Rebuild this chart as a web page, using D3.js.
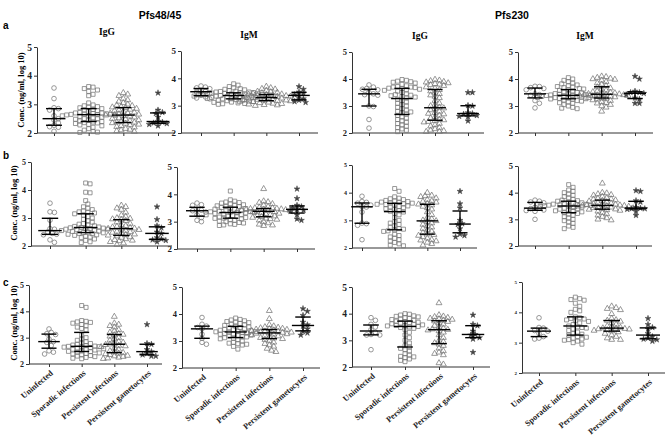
<!DOCTYPE html>
<html><head><meta charset="utf-8">
<script src="https://cdn.jsdelivr.net/npm/d3@7"></script>
<style>body{margin:0;background:#fff}</style>
</head><body>
<script>
// ---------------- data ----------------
const categories = ["Uninfected","Sporadic infections","Persistent infections","Persistent gametocytes"];
const antigens = ["Pfs48/45","Pfs230"];
const isotypes = ["IgG","IgM","IgG","IgM"];
const rowLetters = ["a","b","c"];
const yTicks = [2,3,4,5];
const yLabel = "Conc. (ng/ml, log 10)";

// row a
const a48G = [
 [3.57,3.2,2.88,2.85,2.8,2.6,2.5,2.45,2.35,2.27,2.22,2.2,2.06],
 [3.62,3.6,3.55,3.5,3.45,3.35,3.3,3.05,2.98,2.95,2.92,2.9,2.88,2.85,2.82,2.8,2.78,2.75,2.72,2.7,2.7,2.68,2.67,2.66,2.65,2.65,2.64,2.63,2.62,2.6,2.6,2.58,2.55,2.52,2.5,2.5,2.48,2.45,2.42,2.4,2.38,2.36,2.35,2.33,2.3,2.28,2.25,2.2,2.15,2.1,2.05,2.03,2.02],
 [3.4,3.35,3.3,3.2,3.15,3.1,3.05,3.0,2.97,2.95,2.92,2.9,2.88,2.85,2.82,2.8,2.78,2.75,2.72,2.7,2.68,2.66,2.65,2.63,2.62,2.6,2.58,2.55,2.52,2.5,2.48,2.45,2.42,2.4,2.38,2.37,2.35,2.33,2.3,2.28,2.25,2.22,2.2,2.15,2.12,2.1,2.07,2.05],
 [3.4,2.8,2.72,2.68,2.55,2.4,2.38,2.35,2.33,2.3,2.25]
];
const a48M = [
 [3.72,3.68,3.65,3.62,3.56,3.52,3.5,3.45,3.38,3.32,3.28,3.25],
 [3.8,3.75,3.7,3.65,3.62,3.6,3.58,3.55,3.53,3.52,3.5,3.5,3.48,3.47,3.46,3.45,3.44,3.43,3.42,3.42,3.41,3.4,3.4,3.4,3.39,3.38,3.37,3.36,3.35,3.35,3.34,3.33,3.32,3.31,3.3,3.3,3.28,3.27,3.26,3.25,3.24,3.22,3.2,3.2,3.18,3.17,3.15,3.13,3.12,3.1,3.08,3.07,3.05],
 [3.7,3.65,3.62,3.6,3.55,3.52,3.5,3.48,3.46,3.44,3.42,3.41,3.4,3.38,3.37,3.36,3.35,3.34,3.33,3.32,3.31,3.3,3.3,3.29,3.28,3.27,3.26,3.25,3.24,3.23,3.22,3.2,3.2,3.19,3.18,3.17,3.15,3.14,3.12,3.1,3.08,3.07,3.05,3.03,3.02,3.0],
 [3.7,3.6,3.5,3.45,3.4,3.35,3.25,3.2,3.15,3.12]
];
const a230G = [
 [3.78,3.7,3.65,3.62,3.6,3.5,3.45,3.42,3.4,3.0,2.98,2.5,2.18],
 [3.98,3.95,3.92,3.9,3.88,3.85,3.8,3.75,3.72,3.7,3.7,3.68,3.66,3.65,3.62,3.6,3.58,3.55,3.5,3.45,3.42,3.4,3.38,3.35,3.33,3.3,3.25,3.2,3.15,3.1,3.05,3.0,2.95,2.9,2.85,2.8,2.78,2.75,2.7,2.65,2.6,2.55,2.5,2.45,2.4,2.35,2.3,2.25,2.2,2.15,2.1,2.05],
 [3.98,3.95,3.93,3.9,3.88,3.85,3.82,3.8,3.78,3.75,3.7,3.65,3.6,3.55,3.5,3.45,3.4,3.35,3.3,3.2,3.1,3.05,3.0,2.95,2.92,2.9,2.85,2.8,2.75,2.72,2.7,2.65,2.6,2.55,2.5,2.48,2.45,2.42,2.4,2.35,2.3,2.25,2.2,2.15,2.1,2.08,2.05,2.05],
 [3.5,3.5,3.02,3.0,2.75,2.72,2.7,2.65,2.62,2.6,2.45]
];
const a230M = [
 [3.73,3.72,3.68,3.65,3.6,3.45,3.42,3.4,3.2,3.1,2.93],
 [4.05,4.0,3.95,3.9,3.85,3.82,3.78,3.75,3.72,3.7,3.68,3.65,3.63,3.6,3.58,3.55,3.52,3.5,3.48,3.46,3.45,3.43,3.42,3.41,3.4,3.4,3.39,3.38,3.37,3.36,3.35,3.34,3.33,3.32,3.31,3.3,3.29,3.28,3.27,3.26,3.25,3.22,3.2,3.18,3.15,3.12,3.1,3.05,3.0,2.95,2.92,2.9],
 [4.1,4.08,4.05,4.02,4.0,3.98,3.95,3.9,3.85,3.8,3.75,3.7,3.66,3.62,3.58,3.55,3.52,3.5,3.48,3.47,3.45,3.44,3.43,3.42,3.41,3.4,3.39,3.38,3.37,3.35,3.33,3.31,3.3,3.28,3.25,3.22,3.2,3.15,3.12,3.1,3.05,3.0,2.95,2.8],
 [4.1,4.0,3.55,3.5,3.5,3.47,3.42,3.3,3.25,3.1,3.1]
];
// row b
const b48G = [
 [3.53,3.22,3.2,2.92,2.62,2.6,2.5,2.45,2.42,2.4,2.22,2.13],
 [4.25,4.22,3.92,3.9,3.62,3.5,3.4,3.35,3.3,3.25,3.22,3.2,3.18,3.15,3.1,3.05,3.0,2.95,2.9,2.85,2.8,2.78,2.75,2.72,2.7,2.68,2.66,2.65,2.64,2.63,2.62,2.6,2.6,2.58,2.56,2.55,2.53,2.52,2.5,2.48,2.47,2.45,2.44,2.42,2.4,2.38,2.35,2.32,2.3,2.25,2.2,2.15,2.12],
 [3.45,3.4,3.35,3.3,3.2,3.1,3.05,3.0,2.98,2.96,2.94,2.9,2.85,2.8,2.75,2.72,2.7,2.67,2.65,2.63,2.62,2.6,2.58,2.55,2.52,2.5,2.48,2.45,2.42,2.4,2.38,2.35,2.32,2.3,2.25,2.22,2.2,2.18,2.15,2.1,2.05],
 [3.4,2.95,2.72,2.65,2.5,2.45,2.3,2.25,2.22,2.2,2.15]
];
const b48M = [
 [3.68,3.62,3.6,3.45,3.42,3.4,3.35,3.25,3.15,3.05,3.0],
 [4.12,3.8,3.75,3.72,3.7,3.68,3.65,3.62,3.6,3.58,3.56,3.55,3.52,3.5,3.48,3.46,3.45,3.42,3.4,3.38,3.37,3.36,3.35,3.34,3.33,3.32,3.3,3.28,3.26,3.25,3.22,3.2,3.18,3.17,3.15,3.13,3.12,3.1,3.08,3.05,3.02,3.0,2.97,2.95,2.92,2.9,2.88,2.86],
 [4.2,3.75,3.72,3.7,3.65,3.6,3.55,3.52,3.5,3.5,3.48,3.47,3.46,3.45,3.44,3.43,3.42,3.41,3.4,3.39,3.38,3.37,3.36,3.35,3.33,3.3,3.28,3.25,3.22,3.2,3.18,3.15,3.12,3.1,3.08,3.05,3.0,2.95,2.9,2.87,2.85],
 [4.2,3.85,3.6,3.55,3.5,3.45,3.42,3.38,3.25,3.1,3.05]
];
const b230G = [
 [3.87,3.68,3.65,3.62,3.55,3.5,3.48,3.3,2.9,2.88,2.82,2.3],
 [4.15,4.05,3.85,3.8,3.78,3.75,3.72,3.7,3.68,3.66,3.65,3.63,3.62,3.6,3.58,3.57,3.55,3.52,3.5,3.48,3.45,3.42,3.4,3.35,3.33,3.3,3.25,3.2,3.1,3.0,2.95,2.9,2.85,2.8,2.75,2.7,2.68,2.65,2.62,2.6,2.5,2.45,2.4,2.35,2.3,2.25,2.2,2.15,2.1,2.08],
 [4.0,3.9,3.88,3.85,3.8,3.75,3.7,3.68,3.65,3.6,3.58,3.55,3.5,3.45,3.4,3.3,3.2,3.1,3.05,3.0,2.98,2.95,2.9,2.85,2.8,2.75,2.7,2.65,2.6,2.55,2.5,2.48,2.45,2.4,2.35,2.3,2.28,2.25,2.2,2.15,2.1],
 [4.05,3.6,3.45,3.0,2.88,2.85,2.7,2.5,2.45,2.4]
];
const b230M = [
 [3.72,3.68,3.65,3.62,3.45,3.42,3.4,3.35,3.33,3.3,3.0],
 [4.3,4.2,4.1,4.05,4.0,3.95,3.9,3.85,3.8,3.75,3.72,3.7,3.68,3.65,3.62,3.6,3.58,3.57,3.56,3.55,3.54,3.53,3.52,3.51,3.5,3.5,3.48,3.46,3.45,3.42,3.4,3.38,3.35,3.32,3.3,3.28,3.25,3.22,3.2,3.15,3.1,3.05,3.0,2.95,2.9,2.85,2.75,2.7,2.65],
 [4.35,4.0,3.98,3.95,3.92,3.9,3.85,3.8,3.78,3.76,3.75,3.72,3.7,3.68,3.65,3.62,3.6,3.58,3.56,3.55,3.54,3.53,3.52,3.51,3.5,3.49,3.48,3.47,3.46,3.45,3.43,3.42,3.4,3.38,3.37,3.35,3.33,3.3,3.25,3.2,3.15,3.1,3.05,3.0,2.97],
 [4.08,4.05,3.7,3.65,3.45,3.42,3.4,3.4,3.38,3.3,3.15]
];
// row c
const c48G = [
 [3.33,3.2,3.15,3.12,2.95,2.85,2.82,2.7,2.5,2.45,2.38],
 [4.22,4.15,3.65,3.62,3.6,3.58,3.55,3.5,3.45,3.4,3.35,3.3,3.1,3.0,2.95,2.9,2.85,2.8,2.78,2.75,2.72,2.7,2.68,2.67,2.66,2.65,2.64,2.62,2.6,2.58,2.56,2.55,2.53,2.5,2.48,2.47,2.45,2.42,2.4,2.38,2.35,2.32,2.3,2.28,2.25,2.22,2.2],
 [3.8,3.55,3.5,3.45,3.4,3.3,3.25,3.2,3.15,3.12,3.1,3.05,3.0,2.95,2.9,2.85,2.82,2.78,2.75,2.73,2.7,2.68,2.65,2.6,2.55,2.5,2.45,2.43,2.4,2.38,2.35,2.32,2.3,2.28,2.25,2.22,2.2],
 [3.5,2.78,2.75,2.55,2.47,2.4,2.35,2.3,2.3]
];
const c48M = [
 [3.87,3.62,3.55,3.5,3.45,3.25,3.1,2.95,2.88],
 [3.85,3.8,3.78,3.75,3.72,3.7,3.68,3.65,3.62,3.6,3.58,3.55,3.52,3.5,3.48,3.45,3.43,3.42,3.4,3.38,3.36,3.35,3.34,3.33,3.32,3.3,3.28,3.26,3.25,3.22,3.2,3.18,3.16,3.15,3.12,3.1,3.08,3.05,3.0,2.95,2.92,2.9,2.88,2.85,2.8,2.7],
 [4.12,3.82,3.6,3.55,3.52,3.5,3.48,3.46,3.45,3.43,3.42,3.4,3.38,3.36,3.35,3.33,3.32,3.31,3.3,3.3,3.28,3.26,3.25,3.22,3.2,3.18,3.15,3.12,3.1,3.08,3.05,3.0,2.95,2.9,2.85,2.8,2.72,2.65,2.6],
 [4.2,4.1,3.95,3.7,3.6,3.55,3.45,3.35,3.3,3.22]
];
const c230G = [
 [3.85,3.75,3.6,3.5,3.4,3.3,3.22,3.2,3.2,2.65],
 [4.0,3.98,3.95,3.92,3.9,3.88,3.85,3.82,3.8,3.78,3.75,3.72,3.7,3.68,3.66,3.65,3.62,3.6,3.58,3.56,3.55,3.54,3.52,3.5,3.48,3.45,3.4,3.3,3.2,3.1,3.0,2.9,2.8,2.75,2.7,2.65,2.6,2.5,2.45,2.4,2.38,2.35,2.3,2.25,2.2],
 [4.4,3.95,3.9,3.88,3.85,3.82,3.8,3.78,3.75,3.72,3.7,3.65,3.6,3.55,3.5,3.45,3.42,3.4,3.38,3.35,3.3,3.2,3.1,3.0,2.95,2.9,2.85,2.8,2.7,2.6,2.55,2.5,2.45,2.15,2.1],
 [3.95,3.6,3.55,3.35,3.22,3.2,3.1,3.05,2.55]
];
const c230M = [
 [3.82,3.5,3.48,3.4,3.38,3.3,3.2,3.15,3.12],
 [4.5,4.45,4.42,4.4,4.3,4.2,4.1,4.05,4.0,3.85,3.82,3.8,3.78,3.75,3.72,3.7,3.65,3.6,3.55,3.52,3.5,3.48,3.45,3.4,3.35,3.3,3.28,3.25,3.2,3.18,3.15,3.12,3.1,3.08,3.05,3.0,2.95],
 [4.2,4.15,4.12,4.08,3.95,3.8,3.75,3.73,3.7,3.65,3.6,3.55,3.52,3.5,3.48,3.47,3.46,3.45,3.44,3.42,3.4,3.38,3.35,3.3,3.25,3.2,3.15,3.1,3.1],
 [3.8,3.6,3.5,3.45,3.3,3.2,3.15,3.12,3.1,3.05]
];
const panelData = [a48G,a48M,a230G,a230M,b48G,b48M,b230G,b230M,c48G,c48M,c230G,c230M];

// ---------------- layout (positions only) ----------------
const layout = [
 {ax:37, xe:175, t0:54, t1:158, yTop:47, yBot:133, tf:9.5},
 {ax:181,xe:318, t0:201,t1:299, yTop:51, yBot:133, tf:9},
 {ax:352,xe:484, t0:369,t1:468, yTop:52, yBot:133, tf:8.5},
 {ax:518,xe:653, t0:535,t1:635, yTop:52, yBot:133, tf:8.5},
 {ax:31, xe:172, t0:50, t1:157, yTop:162,yBot:246, tf:8},
 {ax:177,xe:315, t0:197,t1:297, yTop:167,yBot:249, tf:9},
 {ax:352,xe:477, t0:362,t1:460, yTop:165,yBot:248, tf:6},
 {ax:518,xe:652, t0:535,t1:636, yTop:166,yBot:246, tf:8.5},
 {ax:29, xe:162, t0:49, t1:147, yTop:285,yBot:364, tf:8},
 {ax:182,xe:320, t0:202,t1:303, yTop:287,yBot:368, tf:8.5},
 {ax:352,xe:490, t0:371,t1:473, yTop:287,yBot:367, tf:9.5},
 {ax:522,xe:665, t0:539,t1:648, yTop:282,yBot:373, tf:5}
];

const serif = "'Liberation Serif','Times New Roman',serif";
const sans = "'Liberation Sans',Arial,sans-serif";
const symbolTypes = [d3.symbolCircle, d3.symbolSquare, d3.symbolTriangle, d3.symbolStar];
const symbolSizes = [17, 16, 15, 11];

const svg = d3.select("body").append("svg").attr("width",668).attr("height",439)
  .style("background","#fff");

// Antigen titles
svg.append("text").attr("x",160).attr("y",19).attr("text-anchor","middle")
  .attr("font-family",sans).attr("font-weight","bold").attr("font-size",10.5).text(antigens[0]);
svg.append("text").attr("x",512).attr("y",19).attr("text-anchor","middle")
  .attr("font-family",sans).attr("font-weight","bold").attr("font-size",10.5).text(antigens[1]);

// Row letters
const letterPos = [[3,29],[3,159],[3,286]];
rowLetters.forEach((l,i)=>svg.append("text").attr("x",letterPos[i][0]).attr("y",letterPos[i][1])
  .attr("font-family",sans).attr("font-weight","bold").attr("font-size",10).text(l));

// Isotype titles (row a)
const isoPos = [[107,35],[249,38],[420,39],[585,39]];
isotypes.forEach((t,i)=>svg.append("text").attr("x",isoPos[i][0]).attr("y",isoPos[i][1])
  .attr("text-anchor","middle").attr("font-family",serif).attr("font-weight","bold")
  .attr("font-size",9.5).text(t));

// y labels
const ylabPos = [[22,90],[15,203],[15,323]];
ylabPos.forEach(p=>svg.append("text").attr("transform",`translate(${p[0]},${p[1]}) rotate(-90)`)
  .attr("text-anchor","middle").attr("dominant-baseline","middle").attr("font-family",serif).attr("font-weight","bold")
  .attr("font-size",8.5).text(yLabel));

function swarm(vals, y, d){
  const pts = vals.map(v=>({v, py:y(v)})).sort((a,b)=>a.py-b.py);
  const placed = [];
  const s = d*0.5;
  for (const p of pts){
    for (let k=0;k<200;k++){
      const off = k===0?0:(k%2?1:-1)*Math.ceil(k/2)*s;
      let ok = true;
      for (const q of placed){
        const dx=q.dx-off, dy=q.py-p.py;
        if (dx*dx+dy*dy < d*d*0.8){ok=false;break;}
      }
      if (ok){p.dx=off;placed.push(p);break;}
    }
  }
  return placed;
}

panelData.forEach((data,pi)=>{
  const L = layout[pi];
  const row = Math.floor(pi/4);
  const g = svg.append("g");
  const y = d3.scaleLinear().domain([2,5]).range([L.yBot,L.yTop]);
  const x = d3.scalePoint().domain(categories).range([L.t0,L.t1]);
  const step = x.step();

  // y axis
  const ya = g.append("g").attr("transform",`translate(${L.ax},0)`)
    .call(d3.axisLeft(y).tickValues(yTicks).tickSize(3).tickSizeOuter(0).tickPadding(2).tickFormat(d3.format("d")));
  ya.select(".domain").attr("stroke","#333");
  ya.selectAll(".tick line").attr("stroke","#333");
  ya.selectAll("text").attr("font-family",serif).attr("font-weight","bold").attr("font-size",L.tf).attr("fill","#222");

  // x axis
  const xa = g.append("g").attr("transform",`translate(0,${L.yBot})`)
    .call(d3.axisBottom(x).tickSize(3).tickSizeOuter(0).tickFormat(row===2?(d=>d):(()=>"")));
  xa.select(".domain").remove();
  xa.selectAll(".tick line").attr("stroke","#333");
  xa.append("line").attr("x1",L.ax).attr("x2",L.xe).attr("stroke","#333");
  if (row===2){
    xa.selectAll("text").attr("x",0).attr("y",0).attr("dy",0)
      .attr("text-anchor","end").attr("transform","translate(4,10) rotate(-40)")
      .attr("font-family",serif).attr("font-weight","bold").attr("font-size",8.3).attr("fill","#222");
  }

  // points
  data.forEach((vals,ci)=>{
    const cx = x(categories[ci]);
    const pts = swarm(vals,y,4.4);
    const sym = d3.symbol().type(symbolTypes[ci]).size(symbolSizes[ci]);
    g.append("g").selectAll("path").data(pts).join("path")
      .attr("transform",d=>`translate(${cx+d.dx},${d.py})`)
      .attr("d",sym)
      .attr("fill",ci===3?"#444":"none")
      .attr("stroke",ci===3?"#444":"#777")
      .attr("stroke-width",ci===3?0.5:0.75);
  });

  // median & IQR
  data.forEach((vals,ci)=>{
    const cx = x(categories[ci]);
    const s = vals.slice().sort(d3.ascending);
    const med = d3.quantile(s,0.5), q1 = d3.quantile(s,0.25), q3 = d3.quantile(s,0.75);
    const mh = step*0.33, ch = step*0.23;
    const bg = g.append("g").attr("stroke","#000").attr("stroke-width",1.4);
    bg.append("line").attr("x1",cx-mh).attr("x2",cx+mh).attr("y1",y(med)).attr("y2",y(med));
    bg.append("line").attr("x1",cx).attr("x2",cx).attr("y1",y(q1)).attr("y2",y(q3));
    bg.append("line").attr("x1",cx-ch).attr("x2",cx+ch).attr("y1",y(q1)).attr("y2",y(q1));
    bg.append("line").attr("x1",cx-ch).attr("x2",cx+ch).attr("y1",y(q3)).attr("y2",y(q3));
  });
});
</script>
</body></html>
